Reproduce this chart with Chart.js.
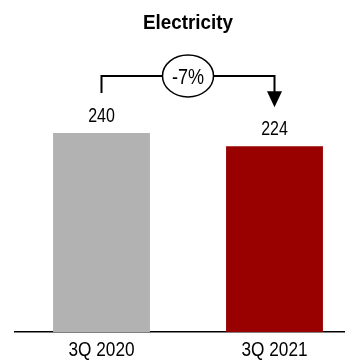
<!DOCTYPE html>
<html>
<head>
<meta charset="utf-8">
<script src="https://cdn.jsdelivr.net/npm/chart.js@4/dist/chart.umd.min.js"></script>
<style>
  html, body { margin: 0; padding: 0; background: #fff; overflow: hidden; }
  canvas { display: block; }
</style>
</head>
<body>
<canvas id="c" width="345" height="361"></canvas>
<script>
// Chart content
const chartTitle = 'Electricity';
const categories = ['3Q 2020', '3Q 2021'];
const values = [240, 224];
const barColors = ['#b2b2b2', '#990000'];

const FONT = "'Liberation Sans', Arial, sans-serif";

const canvas = document.getElementById('c');
const ctx2d = canvas.getContext('2d');

// Condensed lettering: squeeze every string horizontally around its anchor point
const baseFillText = ctx2d.fillText.bind(ctx2d);
ctx2d.fillText = function (text, x, y, maxWidth) {
  const squeeze = /bold|700/.test(this.font) ? 0.92 : 0.82;
  this.save();
  this.translate(x, y);
  this.scale(squeeze, 1);
  baseFillText(text, 0, 0);
  this.restore();
};

// Title centred over the pair of bars
const groupTitle = {
  id: 'groupTitle',
  afterDraw(chart) {
    const ctx = chart.ctx;
    const bars = chart.getDatasetMeta(0).data;
    const cx = (bars[0].x + bars[bars.length - 1].x) / 2;
    ctx.save();
    ctx.font = 'bold 20.5px ' + FONT;
    ctx.fillStyle = '#000';
    ctx.textAlign = 'center';
    ctx.textBaseline = 'alphabetic';
    ctx.fillText(chartTitle, cx, 29);
    ctx.restore();
  }
};

// Value labels above each bar
const barLabels = {
  id: 'barLabels',
  afterDatasetsDraw(chart) {
    const ctx = chart.ctx;
    const bars = chart.getDatasetMeta(0).data;
    ctx.save();
    ctx.font = '19.5px ' + FONT;
    ctx.fillStyle = '#000';
    ctx.textAlign = 'center';
    ctx.textBaseline = 'alphabetic';
    bars.forEach((bar, i) => ctx.fillText(String(values[i]), bar.x, bar.y - 11));
    ctx.restore();
  }
};

// Bracket with arrow and percentage change bubble between the two bars
const changeBracket = {
  id: 'changeBracket',
  afterDatasetsDraw(chart) {
    const ctx = chart.ctx;
    const [a, b] = chart.getDatasetMeta(0).data;
    const lineY = Math.min(a.y, b.y) - 57;
    const startY = a.y - 40;
    const tipY = b.y - 39;
    const head = 16, half = 7.5;
    const pct = Math.round((values[1] - values[0]) / values[0] * 100);
    const label = (pct > 0 ? '+' : '') + pct + '%';

    ctx.save();
    ctx.strokeStyle = '#000';
    ctx.fillStyle = '#000';
    ctx.lineWidth = 2;
    ctx.beginPath();
    ctx.moveTo(a.x, startY);
    ctx.lineTo(a.x, lineY);
    ctx.lineTo(b.x, lineY);
    ctx.lineTo(b.x, tipY - head + 1);
    ctx.stroke();

    ctx.beginPath();
    ctx.moveTo(b.x - half, tipY - head);
    ctx.lineTo(b.x + half, tipY - head);
    ctx.lineTo(b.x, tipY);
    ctx.closePath();
    ctx.fill();

    const cx = (a.x + b.x) / 2;
    ctx.beginPath();
    ctx.ellipse(cx, lineY, 25.5, 21, 0, 0, Math.PI * 2);
    ctx.fillStyle = '#fff';
    ctx.fill();
    ctx.lineWidth = 1.5;
    ctx.stroke();

    ctx.fillStyle = '#000';
    ctx.font = '22px ' + FONT;
    ctx.textAlign = 'center';
    ctx.textBaseline = 'alphabetic';
    ctx.fillText(label, cx, lineY + 8);
    ctx.restore();
  }
};

new Chart(canvas, {
  type: 'bar',
  data: {
    datasets: [{
      data: values.map((v, i) => ({ x: i, y: v })),
      backgroundColor: barColors,
      categoryPercentage: 1,
      barPercentage: 0.56
    }]
  },
  options: {
    responsive: false,
    animation: false,
    devicePixelRatio: 1,
    layout: { padding: { left: 15, right: 0, top: 50, bottom: 0 } },
    plugins: {
      legend: { display: false },
      tooltip: { enabled: false },
      title: { display: false }
    },
    scales: {
      x: {
        type: 'linear',
        offset: false,
        bounds: 'data',
        min: -0.5,
        max: 1.4075,
        grid: { display: false, drawTicks: false },
        border: { display: true, color: '#000', width: 1.5 },
        afterBuildTicks(scale) {
          scale.ticks = categories.map((_, i) => ({ value: i }));
        },
        afterFit(scale) {
          scale.height = 29;
        },
        ticks: {
          color: '#000',
          font: { family: FONT, size: 21 },
          padding: 6,
          autoSkip: false,
          maxRotation: 0,
          callback: (value) => categories[value]
        }
      },
      y: { display: false, min: 0, max: 340 }
    }
  },
  plugins: [barLabels, changeBracket, groupTitle]
});
</script>
</body>
</html>
